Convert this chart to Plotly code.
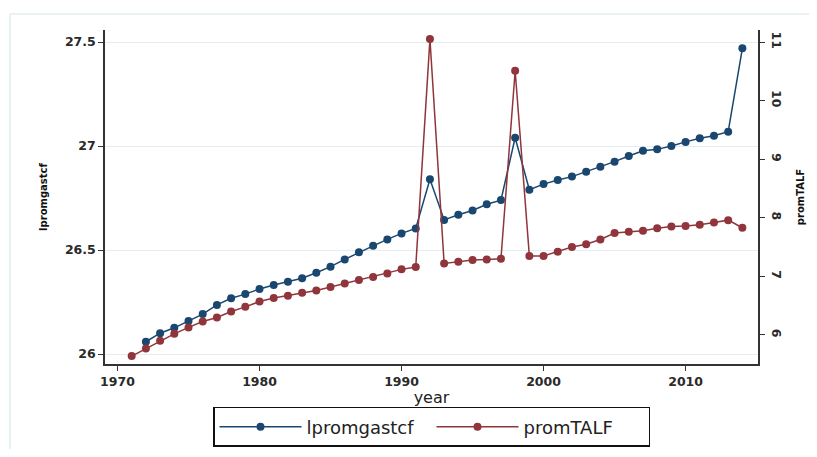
import plotly.graph_objects as go

years_blue = list(range(1972, 2015))
lpromgastcf = [26.059, 26.10, 26.126, 26.159, 26.192, 26.236, 26.268, 26.288, 26.313, 26.332,
               26.348, 26.364, 26.391, 26.42, 26.455, 26.489, 26.52, 26.551, 26.58, 26.604,
               26.84, 26.645, 26.67, 26.69, 26.72, 26.74, 27.04, 26.79, 26.817, 26.837,
               26.853, 26.877, 26.90, 26.925, 26.952, 26.977, 26.984, 27.0, 27.02, 27.037,
               27.05, 27.069, 27.47]

years_red = list(range(1971, 2015))
promTALF = [5.64, 5.77, 5.90, 6.02, 6.13, 6.23, 6.30, 6.40, 6.48, 6.57,
            6.63, 6.67, 6.72, 6.76, 6.82, 6.88, 6.94, 6.99, 7.05, 7.12,
            7.16, 11.05, 7.22, 7.25, 7.28, 7.29, 7.30, 10.51, 7.35, 7.35,
            7.42, 7.50, 7.55, 7.63, 7.74, 7.76, 7.78, 7.82, 7.85, 7.86,
            7.88, 7.92, 7.96, 7.83]

left_ticks = [26, 26.5, 27, 27.5]
left_ticktext = ["26", "26.5", "27", "27.5"]
right_ticks = [6, 7, 8, 9, 10, 11]
x_ticks = [1970, 1980, 1990, 2000, 2010]

BLUE = "#1a476f"
RED = "#90353b"
FONT = "DejaVu Sans, Liberation Sans, Arial, sans-serif"

fig = go.Figure()
fig.add_trace(go.Scatter(
    x=years_blue, y=lpromgastcf, name="lpromgastcf", mode="lines+markers",
    line=dict(color=BLUE, width=1.5), marker=dict(color=BLUE, size=8, symbol="circle"),
    yaxis="y"))
fig.add_trace(go.Scatter(
    x=years_red, y=promTALF, name="promTALF", mode="lines+markers",
    line=dict(color=RED, width=1.5), marker=dict(color=RED, size=8, symbol="circle"),
    yaxis="y2"))

axis_font = dict(family=FONT, size=12.5, color="#2a2a2a", weight="bold")

fig.update_layout(
    width=801, height=441,
    margin=dict(l=97, r=51, t=22, b=85, autoexpand=False),
    paper_bgcolor="white", plot_bgcolor="white",
    font=dict(family=FONT, color="#222222"),
    showlegend=True,
    legend=dict(orientation="h", x=0.5, xanchor="center", xref="paper",
                y=0.05, yanchor="middle", yref="container",
                bordercolor="#111111", borderwidth=1.5, bgcolor="white",
                font=dict(family=FONT, size=18, color="#222222"),
                itemwidth=82, entrywidth=120, tracegroupgap=0),
    xaxis=dict(range=[1969.12, 2015.1], tickmode="array", tickvals=x_ticks,
               ticks="outside", ticklen=5, tickcolor="#333333", showgrid=False,
               showline=True, linecolor="#333333", linewidth=1.5, zeroline=False,
               tickfont=axis_font, automargin=False,
               title=dict(text="year", font=dict(family=FONT, size=16, color="#222222"), standoff=0)),
    yaxis=dict(range=[25.952, 27.558], tickmode="array", tickvals=left_ticks, ticktext=left_ticktext,
               ticks="outside", ticklen=5, tickcolor="#333333",
               showgrid=True, gridcolor="#e2eef1", gridwidth=1,
               showline=True, linecolor="#333333", linewidth=1.5, zeroline=False,
               tickfont=axis_font, automargin=False,
               title=dict(text="lpromgastcf", font=dict(family=FONT, size=10, color="#111111", weight="bold"), standoff=15)),
    yaxis2=dict(range=[5.505, 11.205], overlaying="y", side="right", tickmode="array",
                tickvals=right_ticks, ticks="outside", ticklen=5, tickcolor="#333333",
                showgrid=False, showline=True, linecolor="#333333", linewidth=1.5, zeroline=False,
                tickangle=90, tickfont=axis_font, ticklabelstandoff=2, automargin=False,
                title=dict(text="promTALF", font=dict(family=FONT, size=10, color="#111111", weight="bold"), standoff=14)),
    shapes=[
        dict(type="line", xref="paper", yref="paper", x0=-0.1455, x1=1.2, y0=1.048, y1=1.048,
             line=dict(color="#e0ecef", width=1.5)),
        dict(type="line", xref="paper", yref="paper", x0=-0.1455, x1=-0.1455, y0=-0.3, y1=1.048,
             line=dict(color="#e0ecef", width=1.5)),
    ],
)

fig.write_html("out.html")
